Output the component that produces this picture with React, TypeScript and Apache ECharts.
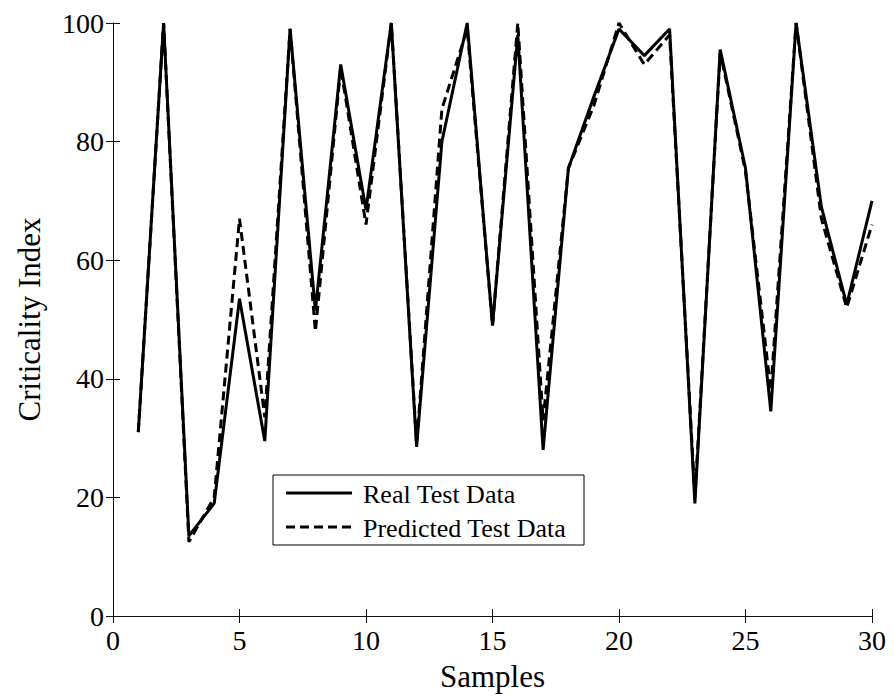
import React, { useEffect, useRef } from "react";
import * as echarts from "echarts";

const samples = [1, 2, 3, 4, 5, 6, 7, 8, 9, 10, 11, 12, 13, 14, 15, 16, 17, 18, 19, 20, 21, 22, 23, 24, 25, 26, 27, 28, 29, 30];
const realTest = [31, 100, 13.5, 19, 53.5, 29.5, 99, 51.5, 93, 68.5, 100, 28.5, 80, 100, 49, 98, 28, 75.5, 87.5, 99, 94.5, 99, 19, 95.5, 75.5, 34.5, 100, 69, 52.5, 70];
const predictedTest = [31, 100, 12.5, 20, 67, 33.5, 99, 48, 92.5, 66, 100, 29, 85.5, 99, 49, 100, 33, 75.5, 86, 100, 93, 98, 20, 95, 75, 38, 100, 67, 52, 66];
const seriesNames = ["Real Test Data", "Predicted Test Data"];
const xTitle = "Samples";
const yTitle = "Criticality Index";

const FONT = "Liberation Serif, Times New Roman, serif";

export default function App() {
  const ref = useRef<HTMLDivElement>(null);
  useEffect(() => {
    if (!ref.current) return;
    const chart = echarts.init(ref.current, null, { renderer: "svg" });
    const axisLine = { show: true, lineStyle: { color: "#111", width: 1 } };
    const axisTick = { show: true, inside: true, length: 7, lineStyle: { color: "#111", width: 1 } };

    // legend box drawn as graphic (line samples without markers)
    const lgLeft = 273, lgTop = 475, lgW = 311, lgH = 70;
    const rowY = [493, 527];
    const legendGraphic = [
      { type: "rect", shape: { x: lgLeft, y: lgTop, width: lgW, height: lgH }, style: { fill: "#fff", stroke: "#000", lineWidth: 1 }, z: 10 },
      { type: "line", shape: { x1: 286, y1: rowY[0], x2: 352, y2: rowY[0] }, style: { stroke: "#000", lineWidth: 3 }, z: 11 },
      { type: "line", shape: { x1: 286, y1: rowY[1], x2: 352, y2: rowY[1] }, style: { stroke: "#000", lineWidth: 3, lineDash: [9, 5] }, z: 11 },
      { type: "text", x: 363, y: rowY[0] + 1, style: { text: seriesNames[0], fontFamily: FONT, fontSize: 26, fill: "#000", verticalAlign: "middle", align: "left" }, z: 11 },
      { type: "text", x: 363, y: rowY[1] + 1, style: { text: seriesNames[1], fontFamily: FONT, fontSize: 26, fill: "#000", verticalAlign: "middle", align: "left" }, z: 11 },
    ];

    chart.setOption({
      animation: false,
      backgroundColor: "#fff",
      grid: { left: 113, right: 22, top: 23, bottom: 78, containLabel: false },
      graphic: legendGraphic,
      xAxis: [
        {
          type: "value",
          min: 0,
          max: 30,
          interval: 5,
          name: xTitle,
          nameLocation: "middle",
          nameGap: 45,
          nameTextStyle: { fontFamily: FONT, fontSize: 31, color: "#000" },
          axisLine,
          axisTick,
          splitLine: { show: false },
          axisLabel: { fontFamily: FONT, fontSize: 28, color: "#000", margin: 10 },
        },
        {
          type: "value",
          position: "top",
          min: 0,
          max: 30,
          interval: 5,
          axisLine,
          axisTick,
          splitLine: { show: false },
          axisLabel: { show: false },
        },
      ],
      yAxis: [
        {
          type: "value",
          min: 0,
          max: 100,
          interval: 20,
          name: yTitle,
          nameLocation: "middle",
          nameGap: 68,
          nameTextStyle: { fontFamily: FONT, fontSize: 31, color: "#000" },
          axisLine,
          axisTick,
          splitLine: { show: false },
          axisLabel: { fontFamily: FONT, fontSize: 28, color: "#000", margin: 9 },
        },
        {
          type: "value",
          position: "right",
          min: 0,
          max: 100,
          interval: 20,
          axisLine,
          axisTick,
          splitLine: { show: false },
          axisLabel: { show: false },
        },
      ],
      series: [
        {
          name: seriesNames[0],
          type: "line",
          symbol: "none",
          data: samples.map((s, i) => [s, realTest[i]]),
          lineStyle: { color: "#000", width: 3, type: "solid" },
          itemStyle: { color: "#000" },
          z: 3,
        },
        {
          name: seriesNames[1],
          type: "line",
          symbol: "none",
          data: samples.map((s, i) => [s, predictedTest[i]]),
          lineStyle: { color: "#000", width: 3, type: [9, 5] },
          itemStyle: { color: "#000" },
          z: 2,
        },
      ],
    });
    return () => chart.dispose();
  }, []);
  return <div ref={ref} style={{ position: "fixed", left: 0, top: 0, width: 894, height: 697 }} />;
}
